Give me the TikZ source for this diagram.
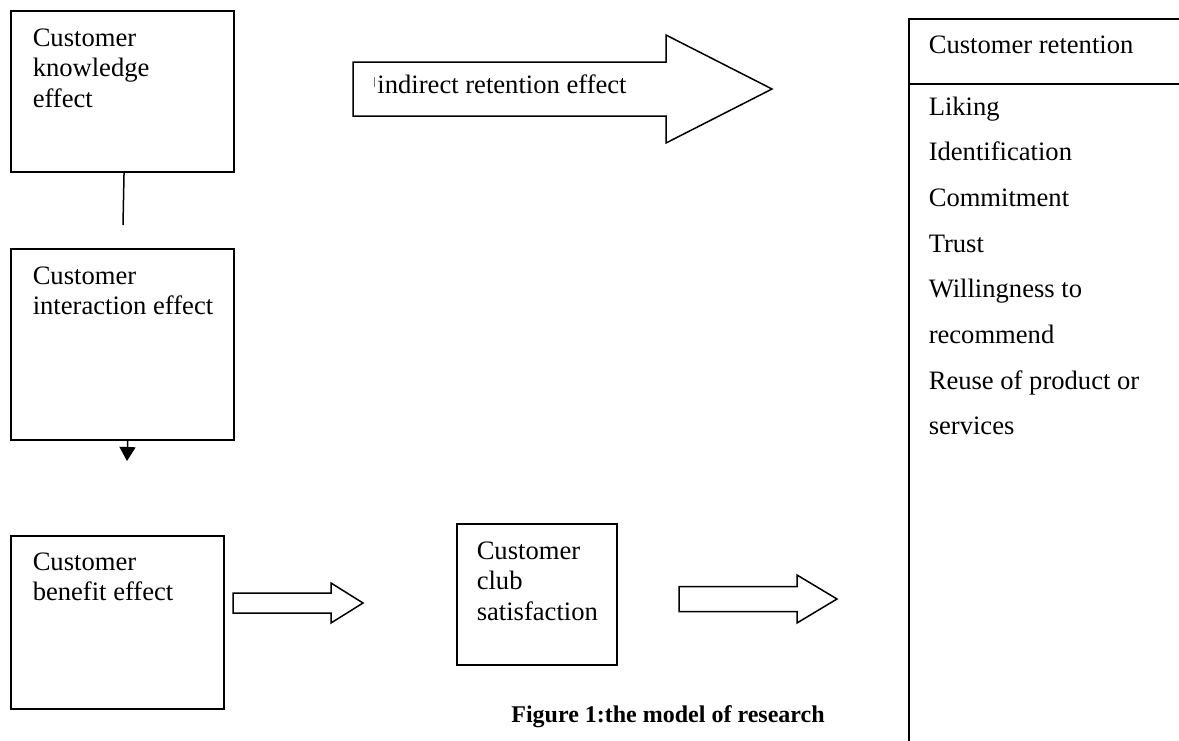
\documentclass[tikz,border=0pt]{standalone}
\usepackage{fontspec}
\setmainfont{Liberation Serif}
\usepackage{tikz}
\usetikzlibrary{arrows.meta,calc}

% hollow block arrow: start, tip, shaft half width, head half width, head length
\newcommand{\fatarrow}[5]{%
  \draw[hollow] ($(#1)+(0,-#3)$) -- ($(#2)+(-#5,-#3)$) -- ($(#2)+(-#5,-#4)$) -- (#2)
    -- ($(#2)+(-#5,#4)$) -- ($(#2)+(-#5,#3)$) -- ($(#1)+(0,#3)$) -- cycle;}

\begin{document}
\begin{tikzpicture}[x=1pt,y=-1pt,line width=1.5pt,
    box/.style={draw, rectangle, anchor=north west, inner sep=0pt},
    boxtext/.style={anchor=north west, inner sep=0pt, align=left, font=\fontsize{26.6}{30.5}\selectfont},
    listtext/.style={anchor=base west, inner sep=0pt, font=\fontsize{26.6}{30.5}\selectfont},
    hollow/.style={draw, line width=1.5pt, line join=miter}]
    \useasboundingbox (0,0) rectangle (1179,740);
    \fill[white] (0,0) rectangle (1179,740);
    \clip (0,0) rectangle (1179,740);

    % left column
    \node[box, minimum width=223pt, minimum height=161pt] (know) at (10,10) {};
    \node[box, minimum width=223pt, minimum height=191pt] (inter) at (10,248) {};
    \node[box, minimum width=213pt, minimum height=173pt] (bene) at (10,535) {};
    \node[boxtext] (knowtxt) at ([shift={(22,18)}]know.north west) {Customer\\knowledge\\effect};
    \node[boxtext] (intertxt) at ([shift={(22,18)}]inter.north west) {Customer\\interaction effect};
    \node[boxtext] (benetxt) at ([shift={(22,17)}]bene.north west) {Customer\\benefit effect};

    \coordinate (gapend) at (123,225);
    \coordinate (downtip) at (127,461);
    \draw ([xshift=1.8pt]know.south) -- (gapend);
    \draw[-{Triangle[width=16pt,length=14pt]}] ([xshift=5.5pt]inter.south) -- (downtip);

    % middle
    \node[box, minimum width=160pt, minimum height=141pt] (club) at (456,523) {};
    \node[boxtext] (clubtxt) at ([shift={(20,18)}]club.north west) {Customer\\club\\satisfaction};

    \coordinate (bigstart) at (353,89);
    \coordinate (bigtip) at (772,89);
    \coordinate (lowstart) at (233,603);
    \coordinate (lowtip) at (363,603);
    \coordinate (rightstart) at (679,599);
    \coordinate (righttip) at (837,599);
    \fatarrow{bigstart}{bigtip}{27}{54}{106}
    \fatarrow{lowstart}{lowtip}{10}{20}{32}
    \fatarrow{rightstart}{righttip}{12.5}{24}{40}
    \node[listtext] (indirect) at (373,93) {\textcolor{black!55}{\rule[6pt]{0.7pt}{10pt}}\hspace{3pt}indirect retention effect};

    % retention box, runs off the page
    \node[box, minimum width=330pt, minimum height=780pt] (ret) at (908,18) {};
    \draw ($(ret.north west)+(0,66)$) -- ($(ret.north east)+(0,66)$);
    \node[listtext] (rettitle) at ($(ret.north west)+(20,35)$) {Customer retention};
    \foreach \entry [count=\i from 0] in {Liking, Identification, Commitment, Trust,
        Willingness to, recommend, Reuse of product or, services}
        \node[listtext] (entry\i) at ($(ret.north west)+(20,97+45.7*\i)$) {\entry};

    \node[inner sep=0pt, anchor=base, font=\bfseries\fontsize{24}{28}\selectfont] (caption) at (668,722) {Figure 1:the model of research};
\end{tikzpicture}
\end{document}
